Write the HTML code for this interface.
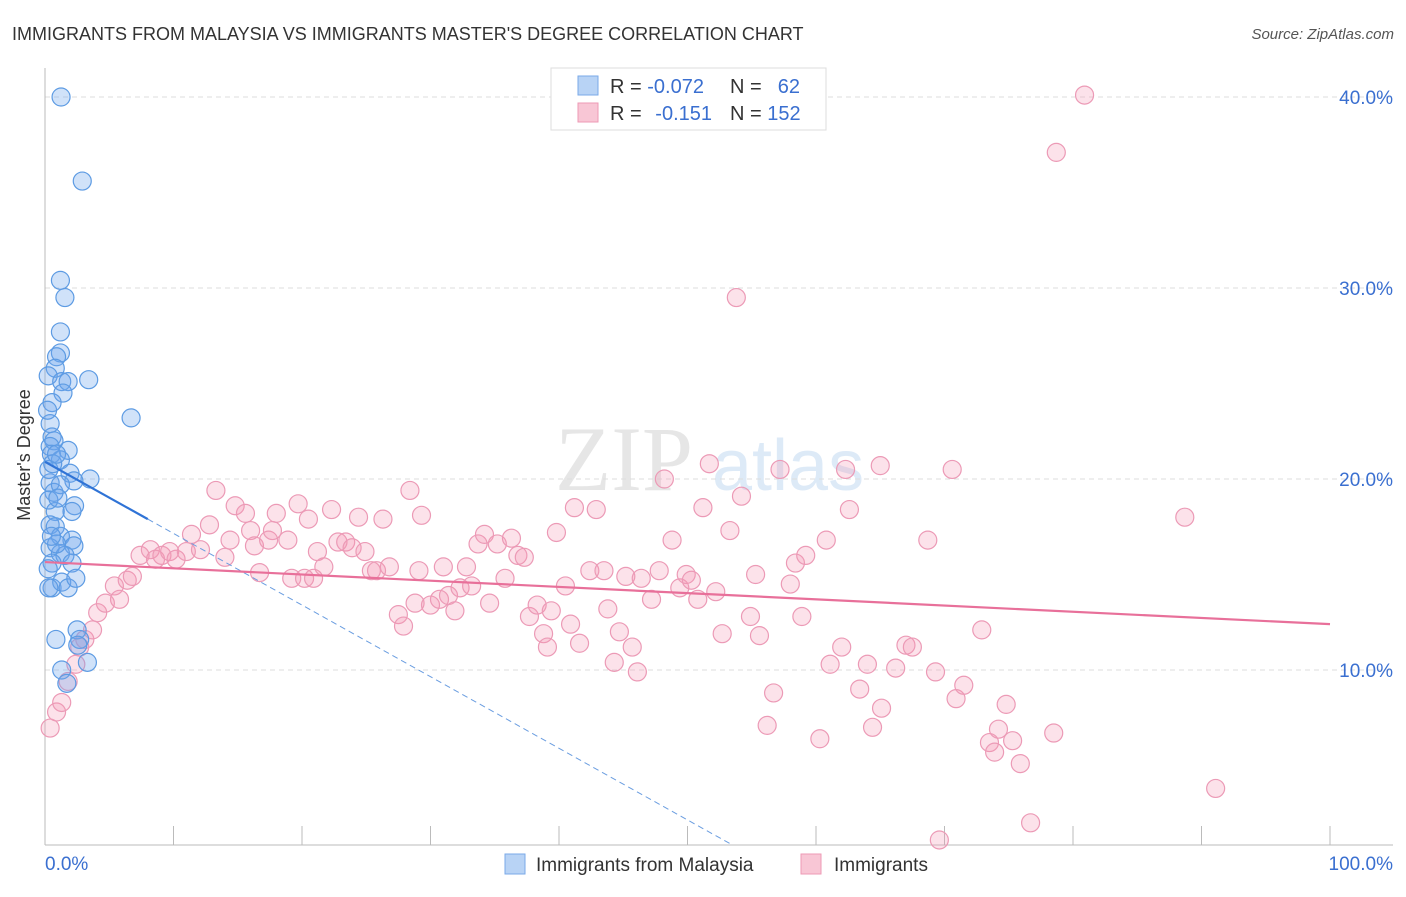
<!DOCTYPE html>
<html><head><meta charset="utf-8"><style>
body{margin:0;background:#fff;font-family:"Liberation Sans",sans-serif;}
svg text{font-family:"Liberation Sans",sans-serif;}
</style></head><body>
<svg id="chart" width="1406" height="892" xmlns="http://www.w3.org/2000/svg">
<text x="12" y="40" font-size="18" fill="#333">IMMIGRANTS FROM MALAYSIA VS IMMIGRANTS MASTER'S DEGREE CORRELATION CHART</text>
<text x="1394" y="39" font-size="15" fill="#555" font-style="italic" text-anchor="end">Source: ZipAtlas.com</text>
<g opacity="0.18">
<text x="555" y="490" font-size="92" font-family="Liberation Serif, serif" fill="#777" style="font-family:'Liberation Serif',serif">ZIP</text>
<text x="712" y="490" font-size="72" fill="#4a8fd8">atlas</text>
</g>
<g id="grid"></g>
<g id="axes"></g>
<g id="pink"></g>
<g id="blue"></g>
<g id="lines"></g>
<text x="30" y="455" font-size="18" fill="#333" transform="rotate(-90 30 455)" text-anchor="middle">Master's Degree</text>
<g>
<rect x="551" y="68" width="275" height="62" fill="#fff" stroke="#ddd"/>
<rect x="578" y="76" width="20" height="19" fill="#b8d3f5" stroke="#7aaae8"/>
<rect x="578" y="103" width="20" height="19" fill="#f8c6d5" stroke="#ee9ab5"/>
<text x="610" y="93" font-size="20" fill="#333">R = <tspan fill="#3a6fd0">-0.072</tspan></text>
<text x="730" y="93" font-size="20" fill="#333">N = </text><text x="800" y="93" font-size="20" fill="#3a6fd0" text-anchor="end">62</text>
<text x="610" y="120" font-size="20" fill="#333">R = </text><text x="712" y="120" font-size="20" fill="#3a6fd0" text-anchor="end">-0.151</text>
<text x="730" y="120" font-size="20" fill="#333">N = <tspan fill="#3a6fd0">152</tspan></text>
</g>
<g>
<rect x="505" y="854" width="20" height="20" fill="#b8d3f5" stroke="#7aaae8"/>
<text x="536" y="871" font-size="19" fill="#333">Immigrants from Malaysia</text>
<rect x="801" y="854" width="20" height="20" fill="#f8c6d5" stroke="#ee9ab5"/>
<text x="834" y="871" font-size="19" fill="#333">Immigrants</text>
</g>
</svg>
<script>
const yTicks=[10,20,30,40];
const yTickLabels=["10.0%","20.0%","30.0%","40.0%"];
const xTickLabels=["0.0%","100.0%"];
const blueX=[1.25,2.9,1.2,1.55,1.2,1.2,0.9,0.8,0.25,1.3,1.8,3.4,1.4,0.55,6.7,0.4,0.55,0.7,0.4,1.8,0.5,1.2,1.95,3.5,2.25,0.4,0.7,1.2,2.3,0.8,2.1,0.4,0.8,1.2,2.1,0.4,2.25,1.2,1.55,2.1,0.55,0.25,0.55,1.3,1.8,0.85,2.5,2.7,2.55,3.3,1.3,1.7,0.3,0.3,0.9,0.3,1.0,0.6,2.4,0.9,0.2,0.5];
const blueY=[40.0,35.6,30.4,29.5,27.7,26.6,26.4,25.8,25.4,25.1,25.1,25.2,24.5,24.0,23.2,22.9,22.2,22.0,21.7,21.5,21.3,21.0,20.3,20.0,19.9,19.8,19.3,19.7,18.6,18.3,18.3,17.6,17.5,17.0,16.8,16.4,16.5,16.1,16.0,15.6,15.6,15.3,14.3,14.6,14.3,11.6,12.1,11.6,11.3,10.4,10.0,9.3,18.9,20.5,16.6,14.3,19.0,20.8,14.8,21.3,23.6,17.0];
const pinkX=[0.4,0.9,1.3,1.8,2.4,2.7,3.1,3.7,4.1,4.7,5.4,5.8,6.4,6.8,7.4,8.2,8.6,9.1,9.7,10.2,11.0,11.4,12.1,12.8,13.3,14.0,14.4,14.8,15.6,16.0,16.3,16.7,17.4,17.7,18.0,18.9,19.2,19.7,20.2,20.5,20.9,21.2,21.7,22.3,22.8,23.4,23.9,24.4,24.9,25.4,25.8,26.3,26.8,27.5,27.9,28.4,28.8,29.1,29.3,30.0,30.7,31.0,31.4,31.9,32.3,32.8,33.2,33.7,34.2,34.6,35.2,35.8,36.3,36.8,37.3,37.7,38.3,38.8,39.1,39.4,39.8,40.5,40.9,41.2,41.6,42.4,42.9,43.5,43.8,44.3,44.7,45.2,45.7,46.1,46.4,47.2,47.8,48.2,48.8,49.4,49.9,50.3,50.8,51.2,51.7,52.2,52.7,53.3,53.8,54.2,54.9,55.3,55.6,56.2,56.7,57.2,58.0,58.4,58.9,59.2,60.3,60.8,61.1,62.0,62.3,62.6,63.4,64.0,64.4,65.0,65.1,66.2,67.0,67.5,68.7,69.3,69.6,70.6,70.9,71.5,72.9,73.5,73.9,74.2,74.8,75.3,75.9,76.7,78.5,78.7,80.9,88.7,91.1];
const pinkY=[6.96,7.8,8.3,9.4,10.3,11.2,11.6,12.1,13.0,13.5,14.4,13.7,14.7,14.9,16.0,16.3,15.8,16.0,16.2,15.8,16.2,17.1,16.3,17.6,19.4,15.9,16.8,18.6,18.2,17.3,16.5,15.1,16.8,17.3,18.2,16.8,14.8,18.7,14.8,17.9,14.8,16.2,15.4,18.4,16.7,16.7,16.4,18.0,16.2,15.2,15.2,17.9,15.4,12.9,12.3,19.4,13.5,15.2,18.1,13.4,13.7,15.4,13.9,13.1,14.3,15.4,14.4,16.6,17.1,13.5,16.6,14.8,16.9,16.0,15.9,12.8,13.4,11.9,11.2,13.1,17.2,14.4,12.4,18.5,11.4,15.2,18.4,15.2,13.2,10.4,12.0,14.9,11.2,9.9,14.8,13.7,15.2,20.0,16.8,14.3,15.0,14.7,13.7,18.5,20.8,14.1,11.9,17.3,29.5,19.1,12.8,15.0,11.8,7.1,8.8,20.5,14.5,15.6,12.8,16.0,6.4,16.8,10.3,11.2,20.5,18.4,9.0,10.3,7.0,20.7,8.0,10.1,11.3,11.2,16.8,9.9,1.1,20.5,8.5,9.2,12.1,6.2,5.7,6.9,8.2,6.3,5.1,2.0,6.7,37.1,40.1,18.0,3.8];
const blueTrend=[20.9,-0.375];
const pinkTrend=[15.65,-0.0325];
const NS="http://www.w3.org/2000/svg";
const X=v=>45+v*12.85, Y=v=>861-v*19.1;
function mk(t,a,p){const e=document.createElementNS(NS,t);for(const k in a)e.setAttribute(k,a[k]);p.appendChild(e);return e;}
const grid=document.getElementById('grid'),axes=document.getElementById('axes');
yTicks.forEach((t,i)=>{
 const l=mk('line',{x1:45,x2:1393,y1:Y(t),y2:Y(t),stroke:'#ddd','stroke-dasharray':'5,4'},grid);
 
 
 const tx=mk('text',{x:1393,y:Y(t)+7,'font-size':19,fill:'#3a6fd0','text-anchor':'end'},axes);tx.textContent=yTickLabels[i];
 
 
});
mk('line',{x1:45,x2:45,y1:68,y2:845,stroke:'#bbb'},axes);
mk('line',{x1:45,x2:1393,y1:845,y2:845,stroke:'#bbb'},axes);
for(let i=0;i<=10;i++){const t=mk('line',{x1:X(i*10),x2:X(i*10),y1:826,y2:845,stroke:'#bbb'},axes);
 
 }
const xl0=mk('text',{x:45,y:870,'font-size':19,fill:'#3a6fd0'},axes);xl0.textContent=xTickLabels[0];


const xl1=mk('text',{x:1393,y:870,'font-size':19,fill:'#3a6fd0','text-anchor':'end'},axes);xl1.textContent=xTickLabels[1];


const pg=document.getElementById('pink');
pinkX.forEach((x,i)=>{const c=mk('circle',{cx:X(x),cy:Y(pinkY[i]),r:9,fill:'rgba(244,150,180,0.28)',stroke:'#ec9ab6','stroke-width':1.2},pg);
 
 });
const bg=document.getElementById('blue');
blueX.forEach((x,i)=>{const c=mk('circle',{cx:X(x),cy:Y(blueY[i]),r:9,fill:'rgba(110,165,235,0.32)',stroke:'#5d9be3','stroke-width':1.2},bg);
 
 });
const lg=document.getElementById('lines');
const bl=mk('line',{x1:X(0),y1:Y(blueTrend[0]),x2:X(8),y2:Y(blueTrend[0]+8*blueTrend[1]),stroke:'#2f73d6','stroke-width':2.2},lg);


const xe=(blueTrend[0]-0.9)/-blueTrend[1];
const bd=mk('line',{x1:X(8),y1:Y(blueTrend[0]+8*blueTrend[1]),x2:X(xe),y2:Y(blueTrend[0]+xe*blueTrend[1]),stroke:'#6a9de0','stroke-width':1,'stroke-dasharray':'6,4'},lg);


const pl=mk('line',{x1:X(0),y1:Y(pinkTrend[0]),x2:X(100),y2:Y(pinkTrend[0]+100*pinkTrend[1]),stroke:'#e8709a','stroke-width':2.2},lg);


</script>
</body></html>
